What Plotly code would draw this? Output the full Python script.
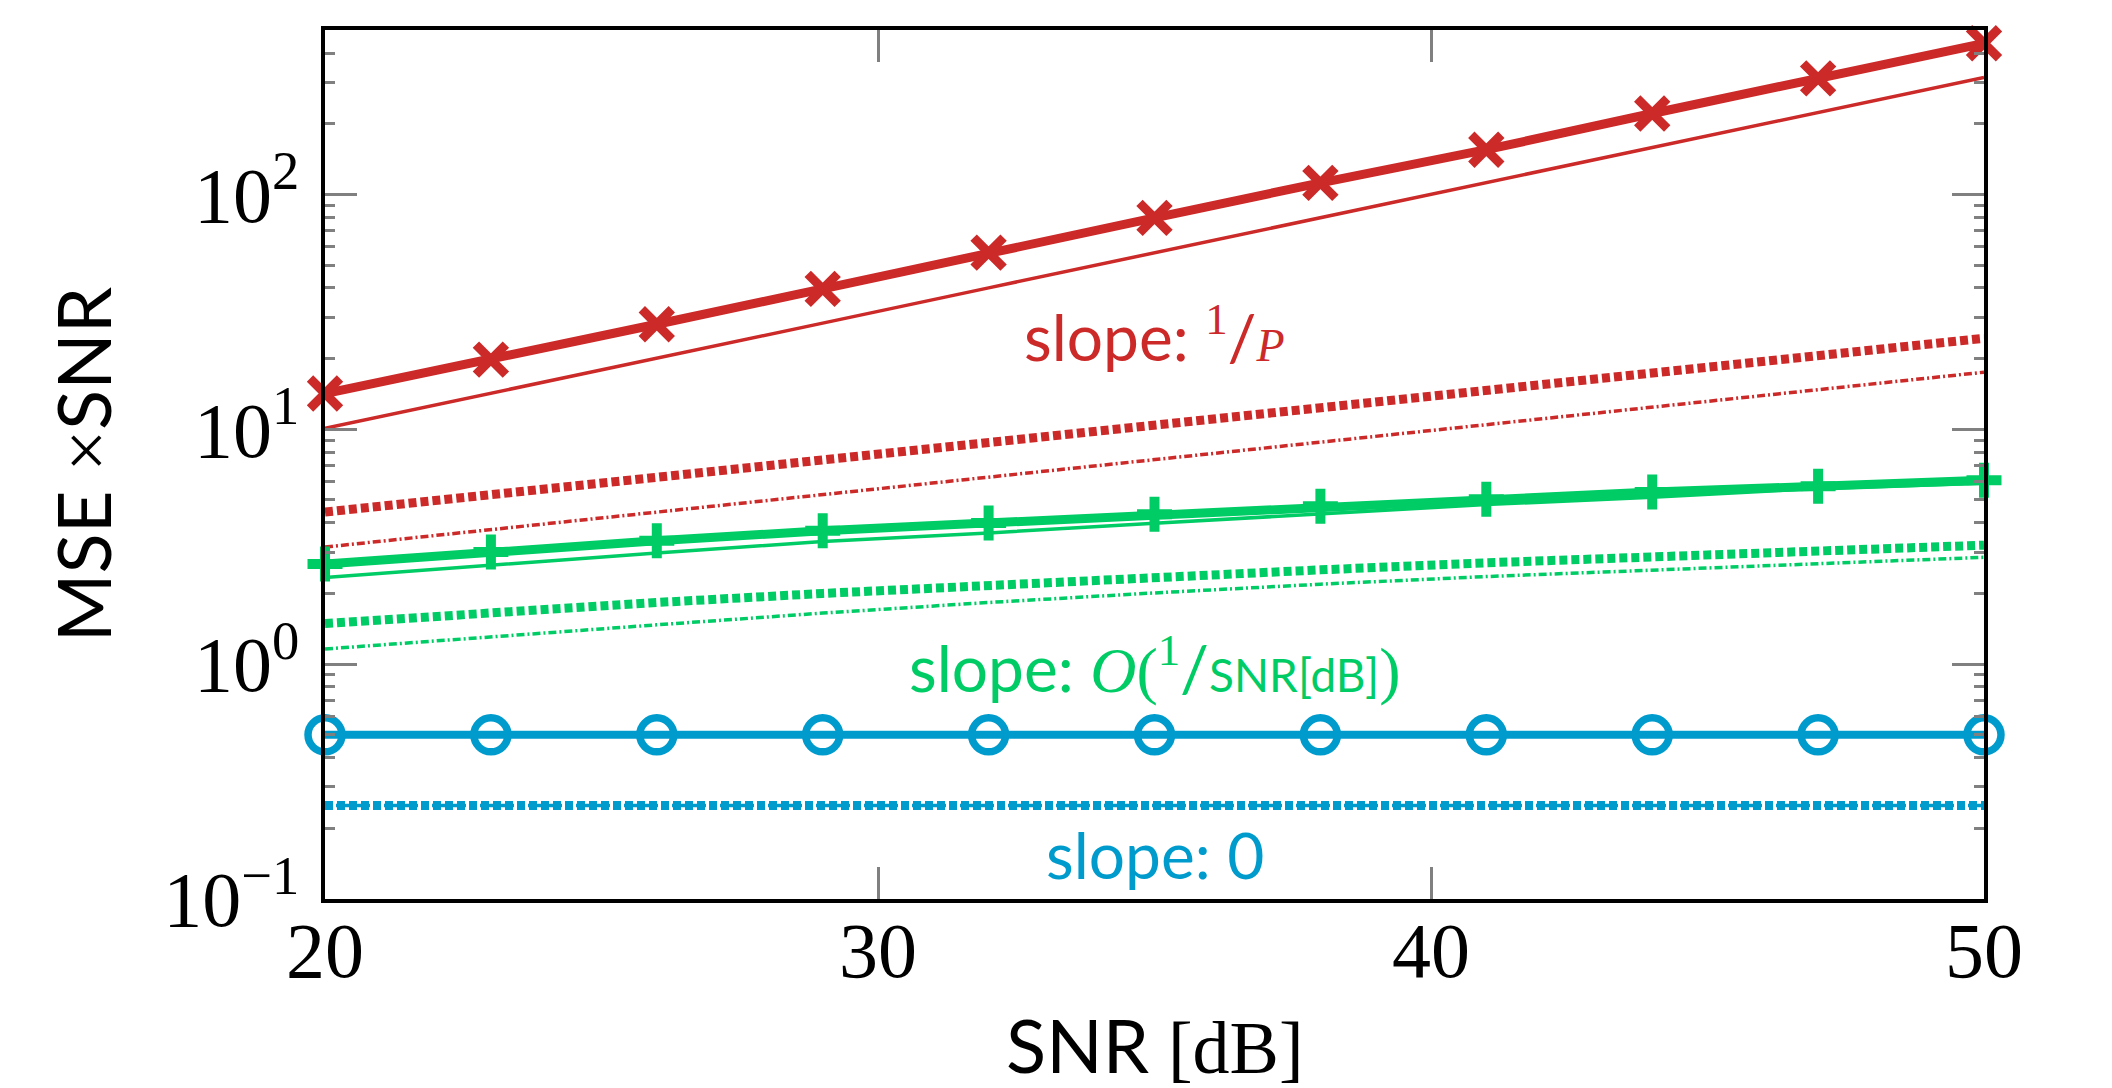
import plotly.graph_objects as go

# ---------------- data ----------------
snr_db = [20, 23, 26, 29, 32, 35, 38, 41, 44, 47, 50]

red_thick = [14.2, 19.8, 28.0, 39.6, 56.5, 79.5, 112, 155, 221, 312, 440]
red_thin = [10.1, 14.2, 20.1, 28.3, 40.0, 56.4, 79.4, 112, 158, 223, 315]
red_dash = [4.44, 5.26, 6.24, 7.40, 8.77, 10.4, 12.3, 14.6, 17.3, 20.6, 24.4]
red_dashdot = [3.15, 3.74, 4.44, 5.27, 6.25, 7.43, 8.81, 10.5, 12.4, 14.8, 17.5]

green_thick = [2.67, 3.00, 3.35, 3.70, 3.99, 4.35, 4.70, 5.03, 5.40, 5.72, 6.07]
green_thin = [2.34, 2.64, 2.97, 3.33, 3.62, 3.98, 4.37, 4.78, 5.14, 5.60, 5.89]
green_dash = [1.49, 1.66, 1.83, 2.00, 2.17, 2.35, 2.52, 2.70, 2.88, 3.04, 3.21]
green_dashdot = [1.16, 1.31, 1.47, 1.65, 1.83, 2.01, 2.19, 2.36, 2.52, 2.69, 2.85]

blue_thick = [0.5] * 11
blue_dash = [0.25] * 11
blue_dashdot = [0.25] * 11

y_tickvals = [0.1, 1, 10, 100]
y_ticktext = ["10<sup>−1</sup>", "10<sup>0</sup>", "10<sup>1</sup>", "10<sup>2</sup>"]
y_minor_tickvals = [k * 10 ** e for e in range(-1, 3) for k in range(2, 10) if k * 10 ** e <= 500]
x_tickvals = [20, 30, 40, 50]
x_ticktext = ["20", "30", "40", "50"]

# ---------------- styles ----------------
RED = "#CC2929"
GREEN = "#00CC66"
BLUE = "#009BCD"
GRAY = "#808080"
SERIF = "Liberation Serif"
SANS = "Lato"
DASH_THICK = "8px,4px"
DASH_DOT = "8px,3px,2px,3px"
Y_RANGE = [-1, 2.7]

fig = go.Figure()

def add_line(y, color, width, dash="solid", marker=None):
    kw = dict(x=snr_db, y=y, line=dict(color=color, width=width, dash=dash),
              showlegend=False, cliponaxis=False, hoverinfo="skip")
    if marker is None:
        kw["mode"] = "lines"
    else:
        kw["mode"] = "lines+markers"
        kw["marker"] = marker
    fig.add_trace(go.Scatter(**kw))

# red group
add_line(red_thin, RED, 3.5)
add_line(red_dash, RED, 9, DASH_THICK)
add_line(red_dashdot, RED, 3.5, DASH_DOT)
add_line(red_thick, RED, 9, marker=dict(symbol="x-thin", size=30, color=RED,
                                         line=dict(color=RED, width=9)))
# green group
add_line(green_thin, GREEN, 3.5)
add_line(green_dash, GREEN, 9, DASH_THICK)
add_line(green_dashdot, GREEN, 3.5, DASH_DOT)
add_line(green_thick, GREEN, 9, marker=dict(symbol="cross-thin", size=25, color=GREEN,
                                             line=dict(color=GREEN, width=10)))
# blue group
add_line(blue_dash, BLUE, 9, DASH_THICK)
add_line(blue_dashdot, BLUE, 3.5, DASH_DOT)
add_line(blue_thick, BLUE, 8, marker=dict(symbol="circle-open", size=34, color=BLUE,
                                           line=dict(color=BLUE, width=7.5)))

# empty traces that carry the minor-tick overlay axes (left and right)
fig.add_trace(go.Scatter(x=[], y=[], yaxis="y2", showlegend=False, hoverinfo="skip"))
fig.add_trace(go.Scatter(x=[], y=[], yaxis="y3", showlegend=False, hoverinfo="skip"))

minor_axis = dict(type="log", range=Y_RANGE, overlaying="y", tickmode="array",
                  tickvals=y_minor_tickvals, ticks="inside", ticklen=10, tickwidth=3,
                  tickcolor=GRAY, showticklabels=False, showgrid=False, zeroline=False,
                  showline=False, automargin=False, fixedrange=True)

x_label_annotations = [
    dict(xref="x", yref="paper", x=v, y=-0.059, xanchor="center", yanchor="middle",
         showarrow=False, text=t, font=dict(family=SERIF, size=78, color="black"))
    for v, t in zip(x_tickvals, x_ticktext)
]

fig.update_layout(
    width=2112, height=1088,
    margin=dict(l=325, r=128, t=30, b=189, autoexpand=False),
    paper_bgcolor="white", plot_bgcolor="white",
    font=dict(family=SANS, color="black"),
    xaxis=dict(
        range=[20, 50], tickmode="array", tickvals=x_tickvals, ticktext=x_ticktext,
        showticklabels=False,
        ticks="inside", ticklen=32, tickwidth=3, tickcolor=GRAY,
        showline=True, linecolor="black", linewidth=4, mirror="ticks",
        showgrid=False, zeroline=False, automargin=False,
    ),
    yaxis=dict(
        type="log", range=Y_RANGE, tickmode="array",
        tickvals=y_tickvals, ticktext=y_ticktext,
        ticks="inside", ticklen=32, tickwidth=3, tickcolor=GRAY,
        showline=True, linecolor="black", linewidth=4, mirror="ticks",
        showgrid=False, zeroline=False, automargin=False,
        tickfont=dict(family=SERIF, size=78, color="black"),
        ticklabelstandoff=6,
        title=dict(text='MSE <span style="font-family:Liberation Serif">×</span>SNR',
                   font=dict(family=SANS, size=74, color="black"), standoff=28),
    ),
    yaxis2=dict(side="left", **minor_axis),
    yaxis3=dict(side="right", **minor_axis),
    annotations=x_label_annotations + [
        dict(xref="paper", yref="paper", x=0.5, y=-0.167, xanchor="center", yanchor="middle",
             showarrow=False, font=dict(family=SANS, size=74, color="black"),
             text='SNR <span style="font-family:Liberation Serif">[dB]</span>'),
        dict(xref="paper", yref="paper", x=0.5, y=0.650, xanchor="center", yanchor="middle",
             showarrow=False, font=dict(family=SANS, size=64, color=RED),
             text='slope: <span style="font-family:Liberation Serif"><sup>1</sup></span>/'
                  '<span style="font-family:Liberation Serif;font-size:46px"><i>P</i></span>'),
        dict(xref="paper", yref="paper", x=0.5, y=0.269, xanchor="center", yanchor="middle",
             showarrow=False, font=dict(family=SANS, size=64, color=GREEN),
             text='slope: <span style="font-family:Liberation Serif"><i>O</i>(<sup>1</sup></span>/'
                  '<span style="font-size:46px">SNR[dB]</span>'
                  '<span style="font-family:Liberation Serif">)</span>'),
        dict(xref="paper", yref="paper", x=0.5, y=0.051, xanchor="center", yanchor="middle",
             showarrow=False, font=dict(family=SANS, size=64, color=BLUE),
             text="slope: 0"),
    ],
)

fig.write_html("out.html", config={"displayModeBar": False},
               post_script="document.body.style.margin='0';document.body.style.overflow='hidden';")
